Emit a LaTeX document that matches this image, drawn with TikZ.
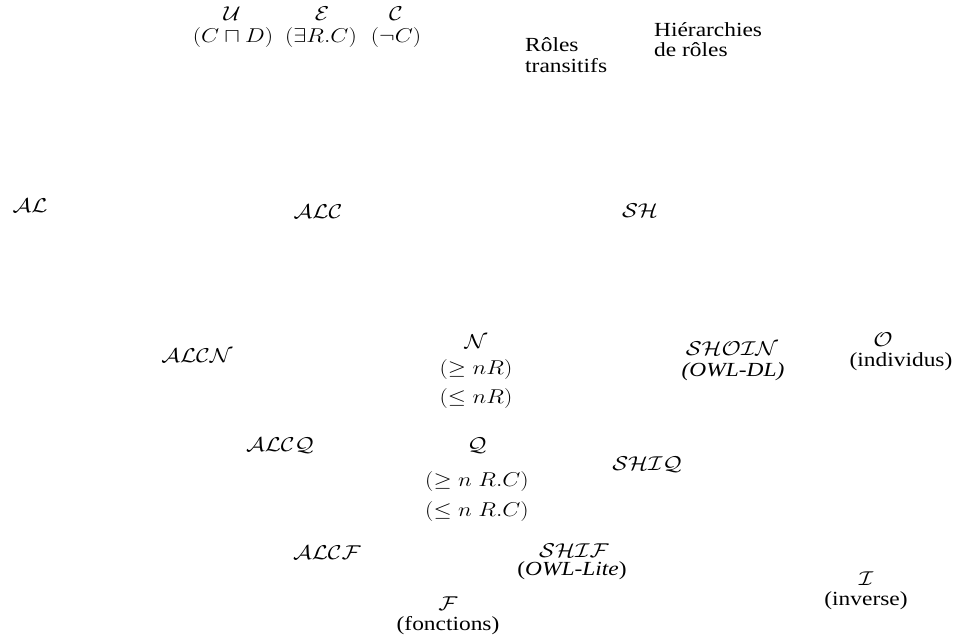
\RequirePackage{fix-cm}
\documentclass[tikz,border=0pt]{standalone}
\usepackage{fontspec}
\setmainfont{Liberation Serif}
\newcommand{\stx}[1]{\scalebox{1.17}[1]{#1}}
\tikzset{
  lbl/.style={inner sep=0pt, font=\fontsize{20}{24}\selectfont},
  lbw/.style={lbl, anchor=west}
}
\begin{document}
\begin{tikzpicture}[x=1pt,y=-1pt]
\useasboundingbox (0,0) rectangle (959,643);
% top row
\node[lbl] (U) at (232,14) {\stx{$\mathcal{U}$}};
\node[lbl] (Ud) at (233,37) {\stx{$(C\sqcap D)$}};
\node[lbl] (E) at (322,14) {\stx{$\mathcal{E}$}};
\node[lbl] (Ed) at (321,37) {\stx{$(\exists R.C)$}};
\node[lbl] (C) at (396,14) {\stx{$\mathcal{C}$}};
\node[lbl] (Cd) at (396,37) {\stx{$(\neg C)$}};
\node[lbw] (R1) at (525,45) {\stx{Rôles}};
\node[lbw] (R2) at (525,66) {\stx{transitifs}};
\node[lbw] (H1) at (654,30) {\stx{Hiérarchies}};
\node[lbw] (H2) at (654,50) {\stx{de rôles}};
% second row
\node[lbl] (AL) at (30,206) {\stx{$\mathcal{AL}$}};
\node[lbl] (ALC) at (318,212) {\stx{$\mathcal{ALC}$}};
\node[lbl] (SH) at (640,211) {\stx{$\mathcal{SH}$}};
% third row
\node[lbl] (ALCN) at (197,356) {\stx{$\mathcal{ALCN}$}};
\node[lbl] (N) at (476,342) {\stx{$\mathcal{N}$}};
\node[lbl] (N1) at (476,369) {\stx{$(\geq nR)$}};
\node[lbl] (N2) at (476,398) {\stx{$(\leq nR)$}};
\node[lbl] (SHOIN) at (732,349) {\stx{$\mathcal{SHOIN}$}};
\node[lbl] (OWLDL) at (733,372) {\stx{\itshape (OWL-DL)}};
\node[lbl] (O) at (883,340) {\stx{$\mathcal{O}$}};
\node[lbl] (Od) at (901,362) {\stx{(individus)}};
% fourth row
\node[lbl] (ALCQ) at (280,446) {\stx{$\mathcal{ALCQ}$}};
\node[lbl] (Q) at (477,446) {\stx{$\mathcal{Q}$}};
\node[lbl] (Q1) at (477,481) {\stx{$(\geq n\; R.C)$}};
\node[lbl] (Q2) at (477,511) {\stx{$(\leq n\; R.C)$}};
\node[lbl] (SHIQ) at (647,465) {\stx{$\mathcal{SHIQ}$}};
% bottom
\node[lbl] (ALCF) at (327,553) {\stx{$\mathcal{ALCF}$}};
\node[lbl] (SHIF) at (574,551) {\stx{$\mathcal{SHIF}$}};
\node[lbl] (OWLL) at (572,571) {\stx{(\textit{OWL-Lite})}};
\node[lbl] (I) at (866,579) {\stx{$\mathcal{I}$}};
\node[lbl] (Id) at (866,601) {\stx{(inverse)}};
\node[lbl] (F) at (448,604) {\stx{$\mathcal{F}$}};
\node[lbl] (Fd) at (448,626) {\stx{(fonctions)}};
\end{tikzpicture}
\end{document}
